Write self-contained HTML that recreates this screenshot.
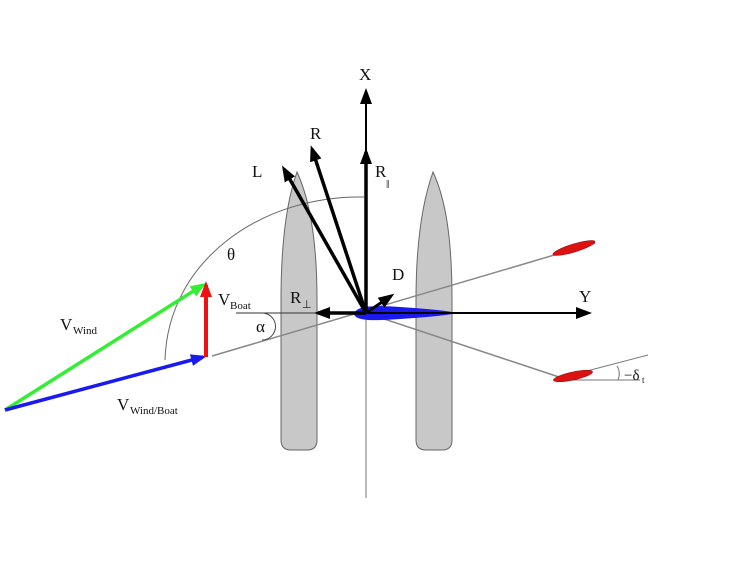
<!DOCTYPE html>
<html><head><style>body{margin:0;background:#fff}svg{display:block}text{font-family:"Liberation Serif",serif;fill:#111}</style></head><body>
<svg width="732" height="564" viewBox="0 0 732 564">
<defs>
<marker id="ak" markerWidth="16" markerHeight="12" refX="12" refY="6" orient="auto" markerUnits="userSpaceOnUse"><path d="M0,0 L16,6 L0,12z" fill="#000"/></marker>
<marker id="ag" markerWidth="16" markerHeight="12" refX="12" refY="6" orient="auto" markerUnits="userSpaceOnUse"><path d="M0,0 L16,6 L0,12z" fill="#33ee33"/></marker>
<marker id="ab" markerWidth="16" markerHeight="12" refX="12" refY="6" orient="auto" markerUnits="userSpaceOnUse"><path d="M0,0 L16,6 L0,12z" fill="#1a1aee"/></marker>
<marker id="ar" markerWidth="16" markerHeight="12" refX="12" refY="6" orient="auto" markerUnits="userSpaceOnUse"><path d="M0,0 L16,6 L0,12z" fill="#ee1111"/></marker>
</defs>
<path d="M297,172 C287,200 281,240 281,300 L281,440 Q281,450 291,450 L307,450 Q317,450 317,440 L317,300 C317,240 310,200 297,172Z" fill="#c8c8c8" stroke="#666" stroke-width="1"/>
<path d="M433,172 C423,200 416,240 416,300 L416,440 Q416,450 426,450 L442,450 Q452,450 452,440 L452,300 C452,240 446,200 433,172Z" fill="#c8c8c8" stroke="#666" stroke-width="1"/>
<path d="M364,197 C262,195 168,260 165,360" fill="none" stroke="#666" stroke-width="1"/>
<line x1="366" y1="498" x2="366" y2="313" stroke="#777" stroke-width="1"/>
<line x1="212" y1="356" x2="595" y2="243" stroke="#888" stroke-width="1.5"/>
<line x1="366" y1="313" x2="562" y2="378" stroke="#888" stroke-width="1.5"/>
<line x1="236" y1="313" x2="320" y2="313" stroke="#333" stroke-width="1"/>
<path d="M262,313 A10 10 0 0 1 262,340" fill="none" stroke="#444" stroke-width="1"/>
<line x1="560" y1="380" x2="640" y2="380" stroke="#777"/>
<line x1="560" y1="378" x2="648" y2="355" stroke="#777"/>
<path d="M618,380 Q621,372 617,366" fill="none" stroke="#777"/>
<ellipse cx="574" cy="248" rx="22" ry="4" transform="rotate(-17 574 248)" fill="#dd1111" stroke="#800" stroke-width="0.5"/>
<ellipse cx="573" cy="376" rx="20" ry="4" transform="rotate(-12 573 376)" fill="#dd1111" stroke="#800" stroke-width="0.5"/>
<path d="M354,314 C356,306 372,305 400,307 C430,309 450,311 456,313 C450,315 430,317 400,319 C372,321 356,321 354,314Z" fill="#1a1aee"/>
<line x1="366" y1="313" x2="588" y2="313" stroke="#000" stroke-width="2" marker-end="url(#ak)"/>
<line x1="366" y1="313" x2="366" y2="92" stroke="#000" stroke-width="2" marker-end="url(#ak)"/>
<line x1="366" y1="313" x2="366" y2="152" stroke="#000" stroke-width="3.5" marker-end="url(#ak)"/>
<line x1="366" y1="313" x2="284" y2="169" stroke="#000" stroke-width="3.5" marker-end="url(#ak)"/>
<line x1="366" y1="313" x2="312" y2="149" stroke="#000" stroke-width="3.5" marker-end="url(#ak)"/>
<line x1="366" y1="313" x2="318" y2="313" stroke="#000" stroke-width="3.5" marker-end="url(#ak)"/>
<line x1="366" y1="313" x2="391" y2="296" stroke="#000" stroke-width="3" marker-end="url(#ak)"/>
<line x1="5" y1="410" x2="203" y2="285" stroke="#33ee33" stroke-width="3.5" marker-end="url(#ag)"/>
<line x1="5" y1="410" x2="203" y2="357" stroke="#1a1aee" stroke-width="3.5" marker-end="url(#ab)"/>
<line x1="206" y1="357" x2="206" y2="285" stroke="#ee1111" stroke-width="4" marker-end="url(#ar)"/>
<text x="359" y="80" font-size="17">X</text>
<text x="310" y="139" font-size="17">R</text>
<text x="252" y="177" font-size="17">L</text>
<text x="375" y="177" font-size="17">R</text><text x="386" y="188" font-size="12">‖</text>
<text x="227" y="260" font-size="17">θ</text>
<text x="392" y="280" font-size="17">D</text>
<text x="218" y="305" font-size="17">V</text><text x="230" y="309" font-size="11">Boat</text>
<text x="290" y="303" font-size="17">R</text><text x="302" y="308" font-size="11">⊥</text>
<text x="256" y="332" font-size="17">α</text>
<text x="60" y="330" font-size="17">V</text><text x="73" y="334" font-size="11">Wind</text>
<text x="117" y="410" font-size="17">V</text><text x="130" y="414" font-size="11">Wind/Boat</text>
<text x="579" y="302" font-size="17">Y</text>
<text x="624" y="380" font-size="15">−δ</text><text x="642" y="383" font-size="9">t</text>
</svg>
</body></html>
